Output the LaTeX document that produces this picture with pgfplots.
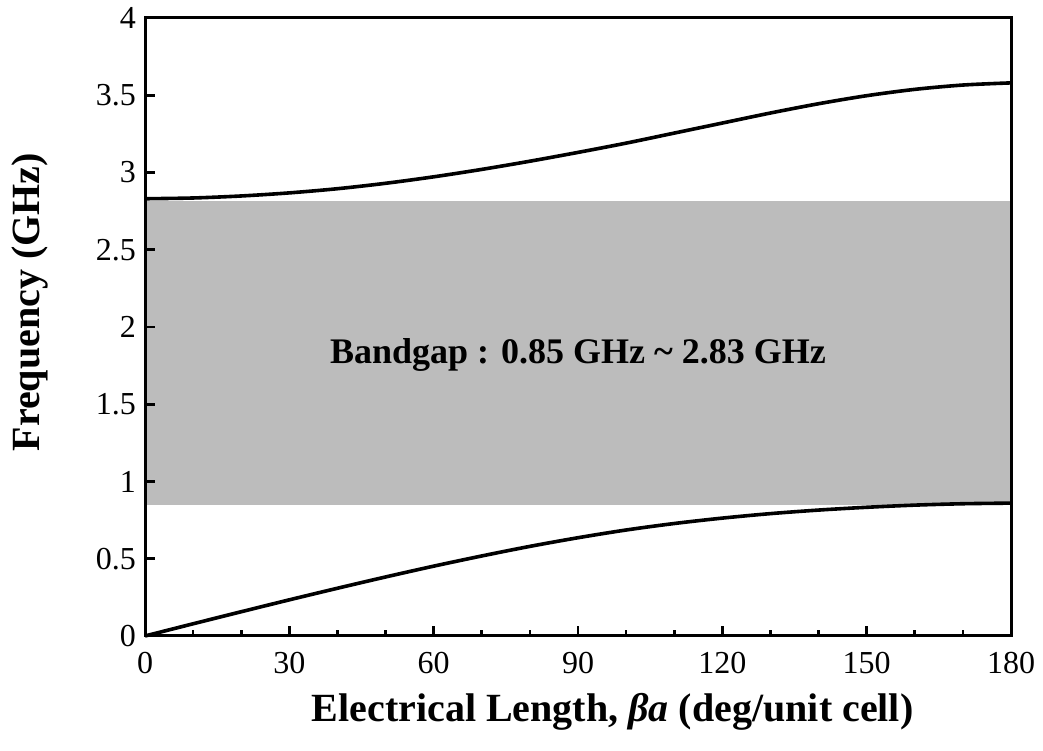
\documentclass[border=0pt]{standalone}
\usepackage{pgfplots}
\pgfplotsset{compat=1.18}
\usepackage{fontspec}
\setmainfont{Liberation Serif}
\definecolor{gapgray}{RGB}{188,188,188}
\begin{document}
\begin{tikzpicture}
\begin{axis}[
  scale only axis,
  width=433pt, height=309pt,
  xmin=0, xmax=180, ymin=0, ymax=4,
  xtick={0,30,...,180}, ytick={0,0.5,...,4},
  minor x tick num=2,
  tick align=inside,
  xtick pos=bottom, ytick pos=left,
  major tick length=5pt, minor tick length=3pt,
  every tick/.style={line width=1.3pt, black},
  axis line style={line width=1.5pt},
  /pgf/number format/assume math mode=true,
  yticklabel style={/pgf/number format/fixed, font=\fontsize{16}{19}\selectfont, xshift=-1pt},
  xticklabel style={font=\fontsize{16}{19}\selectfont, yshift=-4.5pt},
  xlabel={\textbf{Electrical Length, \textit{βa} (deg/unit cell)}},
  ylabel={\textbf{Frequency (GHz)}},
  xlabel style={font=\fontsize{20}{23}\selectfont, at={(axis description cs:0.54,-0.123)}, anchor=center},
  ylabel style={font=\fontsize{20}{23}\selectfont, at={(axis description cs:-0.1328,0.54)}, anchor=center, rotate=0},
  clip=false,
  axis on top,
]
\addplot[fill=gapgray, draw=none] coordinates {(0,0.85) (180,0.85) (180,2.815) (0,2.815)} -- cycle;
\addplot[black, line width=1.8pt, smooth] coordinates {
(0,0) (10,0.079) (20,0.157) (30,0.234) (40,0.309) (50,0.382) (60,0.452) (70,0.518) (80,0.58) (90,0.636) (100,0.686) (110,0.728) (120,0.763) (130,0.792) (140,0.815) (150,0.833) (160,0.847) (170,0.856) (180,0.86)};
\addplot[black, line width=1.8pt, smooth] coordinates {
(0,2.83) (10,2.835) (20,2.848) (30,2.868) (40,2.895) (50,2.93) (60,2.972) (70,3.02) (80,3.073) (90,3.13) (100,3.19) (110,3.255) (120,3.32) (130,3.385) (140,3.445) (150,3.497) (160,3.538) (170,3.566) (180,3.58)};
\node[font=\bfseries\fontsize{18}{21}\selectfont] at (axis cs:90,1.82) {Bandgap : 0.85 GHz \char`~{} 2.83 GHz};
\coordinate (sw) at (rel axis cs:0,0);
\coordinate (ne) at (rel axis cs:1,1);
\end{axis}
\pgfresetboundingbox
\path[use as bounding box] ([xshift=-72.5pt,yshift=-57.5pt]sw) rectangle ([xshift=16pt,yshift=9pt]ne);
\end{tikzpicture}
\end{document}
